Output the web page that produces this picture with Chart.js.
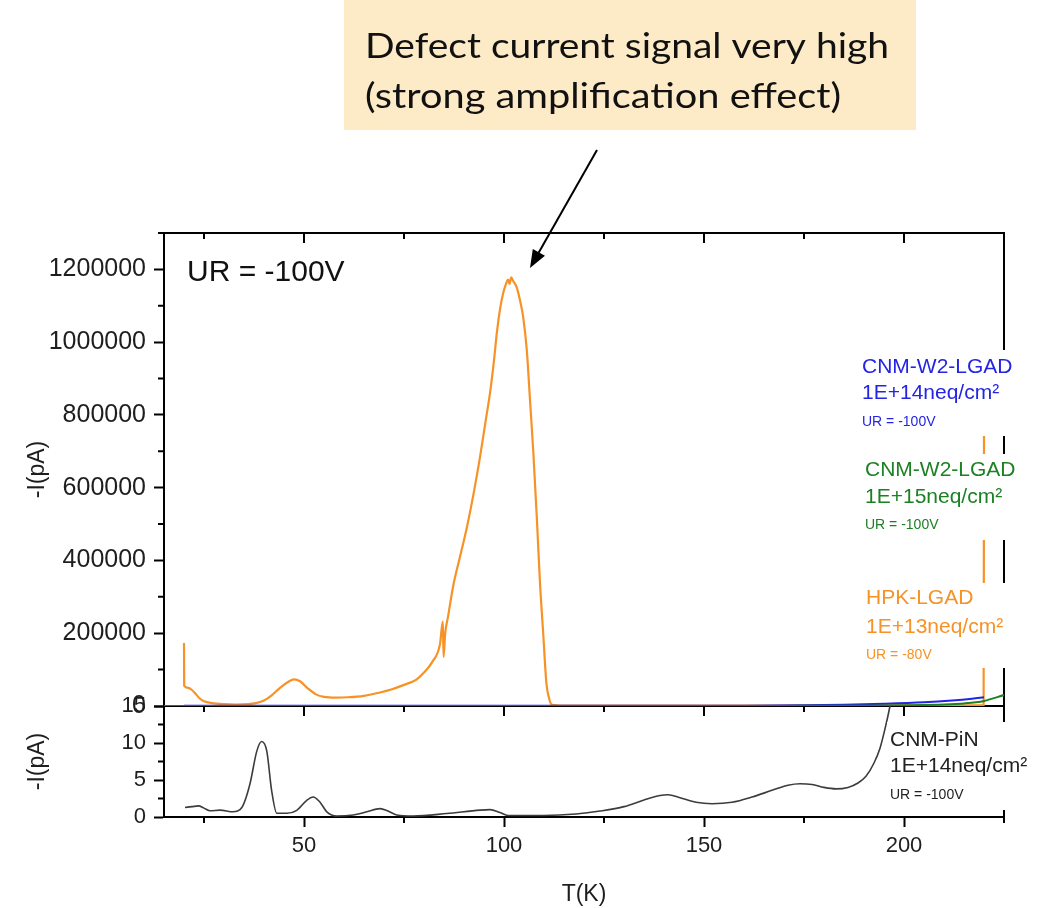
<!DOCTYPE html>
<html>
<head>
<meta charset="utf-8">
<script src="https://cdn.jsdelivr.net/npm/chart.js@4.4.1/dist/chart.umd.min.js"></script>
<style>
  html, body { margin: 0; padding: 0; background: #fff; }
  #wrap { position: relative; width: 1051px; height: 908px; }
</style>
</head>
<body>
<div id="wrap"><canvas id="tsc" width="1051" height="908"></canvas></div>
<script>
// HPK-LGAD 1E+13neq/cm², UR = -80V  (T in K, -I in pA)
const hpkT = [20.0, 20.05, 21, 22, 23, 24, 25, 27, 30, 33, 36, 38, 40, 42, 44, 46, 47.5, 49, 51, 53, 55, 58, 61, 65, 69, 72, 75, 78, 80, 82, 84, 84.7, 84.9, 85.3, 86, 87.3, 89, 90.7, 92.5, 94, 95.5, 96.5, 97.5, 98.2, 99, 99.8, 100.5, 101, 101.4, 101.8, 102.3, 103.2, 104, 104.8, 105.7, 106.5, 107.3, 108.2, 109, 109.8, 110.6, 111.3, 112, 115, 130, 150, 170, 190, 210, 219.9, 220];
const hpkI = [173000, 55000, 50000, 44000, 32000, 20000, 13000, 8000, 5000, 4000, 5000, 8000, 15000, 30000, 50000, 66000, 73000, 68000, 48000, 32000, 25000, 23000, 24000, 28000, 37000, 46000, 58000, 72000, 92000, 120000, 170000, 232000, 135000, 200000, 245000, 330000, 410000, 490000, 590000, 684000, 790000, 860000, 950000, 1025000, 1090000, 1135000, 1160000, 1172000, 1160000, 1178000, 1168000, 1150000, 1115000, 1069000, 978000, 841000, 703000, 519000, 338000, 200000, 63000, 20000, 3000, 1000, 1000, 1000, 1200, 1500, 2000, 2500, 760000];

// CNM-W2-LGAD 1E+14neq/cm², UR = -100V
const w2e14T = [20, 60, 100, 140, 160, 175, 185, 195, 205, 212, 217, 220];
const w2e14I = [500, 500, 500, 700, 1000, 2000, 3500, 6000, 10000, 15000, 20000, 24000];

// CNM-W2-LGAD 1E+15neq/cm², UR = -100V
const w2e15T = [15, 60, 120, 170, 190, 200, 210, 215, 220, 225];
const w2e15I = [0, 0, 0, 300, 1000, 2000, 4000, 7000, 14000, 30000];

// CNM-PiN 1E+14neq/cm², UR = -100V (lower panel)
const pinT = [20.25, 22, 23.6, 25, 26.5, 29, 32.3, 34, 34.8, 36.5, 38.2, 39.4, 40.7, 41.9, 43.2, 45.7, 48.2, 50.7, 52.3, 54, 55.7, 58.2, 62.3, 65.7, 69, 71, 73.2, 77.3, 85.7, 94, 96.5, 99, 101, 110, 118, 124, 130, 135, 139, 141, 144, 148, 152, 157, 162, 167, 171, 174, 177, 180, 183, 186, 188.5, 190.5, 192.5, 194, 195.2, 196.5, 197.5, 198.5];
const pinI = [1.29, 1.4, 1.5, 1.2, 0.84, 0.93, 0.7, 1.0, 1.6, 4.5, 8.9, 10.2, 8.9, 3.6, 0.5, 0.5, 0.9, 2.26, 2.7, 2.0, 0.7, 0.13, 0.27, 0.7, 1.13, 0.8, 0.27, 0.13, 0.47, 0.93, 1.0, 0.6, 0.2, 0.2, 0.4, 0.8, 1.4, 2.3, 2.9, 3.0, 2.6, 2.0, 1.8, 2.0, 2.7, 3.6, 4.3, 4.5, 4.4, 4.0, 3.8, 4.0, 4.6, 5.5, 7.3, 9.3, 11.8, 15, 18, 21];

const xTicksMajor = [50, 100, 150, 200];
const yTopMajor = [0, 200000, 400000, 600000, 800000, 1000000, 1200000];
const yBottomMajor = [0, 5, 10, 15];

const ORANGE = 'rgb(246,146,38)';
const BLUE = 'rgb(36,36,228)';
const GREEN = 'rgb(28,128,36)';
const PIN = '#3c3c3c';
const FONT = '"Liberation Sans", Arial, sans-serif';

const pts = (xs, ys) => xs.map((t, i) => ({ x: t, y: ys[i] }));

// side captions, one white block per sample
const captions = [
  { lines: ['CNM-W2-LGAD', '1E+14neq/cm²', 'UR = -100V'], color: BLUE, x: 862, box: [856, 350, 190, 86], ys: [367, 393, 422] },
  { lines: ['CNM-W2-LGAD', '1E+15neq/cm²', 'UR = -100V'], color: GREEN, x: 865, box: [856, 454, 190, 86], ys: [470, 497, 525] },
  { lines: ['HPK-LGAD', '1E+13neq/cm²', 'UR = -80V'], color: ORANGE, x: 866, box: [856, 583, 190, 85], ys: [598, 627, 655] },
  { lines: ['CNM-PiN', '1E+14neq/cm²', 'UR = -100V'], color: '#222', x: 890, box: [887, 722, 160, 88], ys: [740, 766, 795] }
];

// clip each dataset to its own panel
const panelClip = {
  id: 'panelClip',
  beforeDatasetDraw(chart, args) {
    const ds = chart.data.datasets[args.index];
    const s = chart.scales[ds.yAxisID];
    const a = chart.chartArea;
    chart.ctx.save();
    chart.ctx.beginPath();
    chart.ctx.rect(a.left, s.top - 1, a.right - a.left, s.bottom - s.top + 2);
    chart.ctx.clip();
  },
  afterDatasetDraw(chart) {
    chart.ctx.restore();
  }
};

// text squeezed or stretched horizontally to a given width
function fitText(ctx, str, x, y, width) {
  const w = ctx.measureText(str).width;
  ctx.save();
  ctx.translate(x, y);
  ctx.scale(width / w, 1);
  ctx.fillText(str, 0, 0);
  ctx.restore();
}

const frame = {
  id: 'frame',
  beforeDatasetsDraw(chart) {
    const { ctx, chartArea: a, scales } = chart;
    const x = scales.x, yt = scales.yMain, yb = scales.yPin;
    const mid = yt.bottom;
    ctx.save();
    ctx.strokeStyle = '#000';
    ctx.lineWidth = 2;
    ctx.beginPath();
    ctx.moveTo(a.left, a.top);
    ctx.lineTo(a.right, a.top);
    ctx.lineTo(a.right, a.bottom);
    ctx.moveTo(a.left, mid);
    ctx.lineTo(a.right, mid);
    x.ticks.forEach(t => {
      if (t.value % 25 !== 0) return;
      const px = x.getPixelForValue(t.value);
      const len = t.value % 50 === 0 ? 10 : 6;
      ctx.moveTo(px, a.top);
      ctx.lineTo(px, a.top + len);
      ctx.moveTo(px, mid);
      ctx.lineTo(px, mid + len);
      if (len === 6) {
        ctx.moveTo(px, a.bottom);
        ctx.lineTo(px, a.bottom + 6);
      }
    });
    yt.ticks.forEach(t => {
      if (t.value % 200000 === 0) return;
      const py = yt.getPixelForValue(t.value);
      ctx.moveTo(a.left, py);
      ctx.lineTo(a.left - 6, py);
    });
    yb.ticks.forEach(t => {
      if (t.value % 5 === 0) return;
      const py = yb.getPixelForValue(t.value);
      ctx.moveTo(a.left, py);
      ctx.lineTo(a.left - 6, py);
    });
    ctx.stroke();
    ctx.restore();
  },
  afterDatasetsDraw(chart) {
    const { ctx } = chart;
    ctx.save();
    captions.forEach(c => {
      ctx.fillStyle = '#fff';
      ctx.fillRect(c.box[0], c.box[1], c.box[2], c.box[3]);
      ctx.fillStyle = c.color;
      ctx.textBaseline = 'middle';
      ctx.textAlign = 'left';
      c.lines.forEach((ln, i) => {
        ctx.font = (i === 2 ? '14px ' : '21px ') + FONT;
        ctx.fillText(ln, c.x, c.ys[i]);
      });
    });
    ctx.fillStyle = '#111';
    ctx.font = '30px ' + FONT;
    ctx.fillText('UR = -100V', 187, 273);
    ctx.restore();
  },
  afterDraw(chart) {
    const { ctx } = chart;
    ctx.save();
    // callout box
    ctx.fillStyle = 'rgb(253,235,200)';
    ctx.fillRect(344, 0, 572, 130);
    ctx.fillStyle = '#111';
    ctx.font = '34px Lato, "Open Sans", sans-serif';
    ctx.textBaseline = 'middle';
    ctx.textAlign = 'left';
    fitText(ctx, 'Defect current signal very high', 365, 47, 524);
    fitText(ctx, '(strong amplification effect)', 365, 97, 476);
    // arrow toward the peak
    const x0 = 597, y0 = 150, x1 = 530, y1 = 268;
    const ang = Math.atan2(y1 - y0, x1 - x0);
    ctx.strokeStyle = '#000';
    ctx.lineWidth = 2;
    ctx.beginPath();
    ctx.moveTo(x0, y0);
    ctx.lineTo(x1 - 12 * Math.cos(ang), y1 - 12 * Math.sin(ang));
    ctx.stroke();
    ctx.fillStyle = '#000';
    ctx.beginPath();
    ctx.moveTo(x1, y1);
    ctx.lineTo(x1 - 18 * Math.cos(ang) + 7 * Math.sin(ang), y1 - 18 * Math.sin(ang) - 7 * Math.cos(ang));
    ctx.lineTo(x1 - 18 * Math.cos(ang) - 7 * Math.sin(ang), y1 - 18 * Math.sin(ang) + 7 * Math.cos(ang));
    ctx.closePath();
    ctx.fill();
    ctx.restore();
  }
};

const tickFont = { family: FONT, size: 22 };
const topTickFont = { family: FONT, size: 25 };
const titleFont = { family: FONT, size: 23 };

new Chart(document.getElementById('tsc'), {
  type: 'line',
  data: {
    datasets: [
      { label: 'CNM-W2-LGAD 1E+15', data: pts(w2e15T, w2e15I), yAxisID: 'yMain', borderColor: GREEN, borderWidth: 2 },
      { label: 'CNM-W2-LGAD 1E+14', data: pts(w2e14T, w2e14I), yAxisID: 'yMain', borderColor: BLUE, borderWidth: 2 },
      { label: 'HPK-LGAD 1E+13', data: pts(hpkT, hpkI), yAxisID: 'yMain', borderColor: ORANGE, borderWidth: 2.2 },
      { label: 'CNM-PiN 1E+14', data: pts(pinT, pinI), yAxisID: 'yPin', borderColor: PIN, borderWidth: 1.6 }
    ]
  },
  options: {
    responsive: false,
    animation: false,
    layout: { padding: { top: 233, right: 47, left: 0, bottom: 0 } },
    elements: {
      point: { radius: 0 },
      line: { cubicInterpolationMode: 'monotone', fill: false }
    },
    plugins: { legend: { display: false }, tooltip: { enabled: false } },
    scales: {
      x: {
        type: 'linear', min: 15, max: 225,
        afterFit: s => { s.height = 91; },
        border: { display: true, color: '#000', width: 2 },
        grid: { drawOnChartArea: false, drawTicks: true, tickLength: 10, tickWidth: 2,
          tickColor: c => (c.tick && c.tick.value % 50 === 0) ? '#000' : 'rgba(0,0,0,0)' },
        ticks: { stepSize: 25, autoSkip: false, maxRotation: 0, padding: 6, color: '#1e1e1e', font: tickFont,
          callback: v => xTicksMajor.includes(v) ? String(v) : '' },
        title: { display: true, text: 'T(K)', color: '#1e1e1e', font: titleFont, padding: { top: 6, bottom: 0 } }
      },
      // lower panel axis: listed first so the stack places it at the bottom
      yPin: {
        type: 'linear', position: 'left', stack: 'panels', stackWeight: 111,
        min: 0, max: 15,
        afterFit: s => { s.width = 164; },
        border: { display: true, color: '#000', width: 2 },
        grid: { drawOnChartArea: false, drawTicks: true, tickLength: 10, tickWidth: 2,
          tickColor: c => (c.tick && c.tick.value % 5 === 0) ? '#000' : 'rgba(0,0,0,0)' },
        ticks: { stepSize: 2.5, autoSkip: false, padding: 8, color: '#1e1e1e', font: tickFont,
          callback: v => yBottomMajor.includes(v) ? String(v) : '' },
        title: { display: true, text: '-I(pA)', color: '#1e1e1e', font: titleFont, padding: { top: 24, bottom: 0 } }
      },
      yMain: {
        type: 'linear', position: 'left', stack: 'panels', stackWeight: 473,
        min: 0, max: 1300000,
        afterFit: s => { s.width = 164; },
        border: { display: true, color: '#000', width: 2 },
        grid: { drawOnChartArea: false, drawTicks: true, tickLength: 10, tickWidth: 2,
          tickColor: c => (c.tick && c.tick.value % 200000 === 0) ? '#000' : 'rgba(0,0,0,0)' },
        ticks: { stepSize: 100000, autoSkip: false, padding: 8, color: '#1e1e1e', font: topTickFont,
          callback: v => yTopMajor.includes(v) ? String(v) : '' },
        title: { display: true, text: '-I(pA)', color: '#1e1e1e', font: titleFont, padding: { top: 24, bottom: 0 } }
      }
    }
  },
  plugins: [panelClip, frame]
});
</script>
</body>
</html>
